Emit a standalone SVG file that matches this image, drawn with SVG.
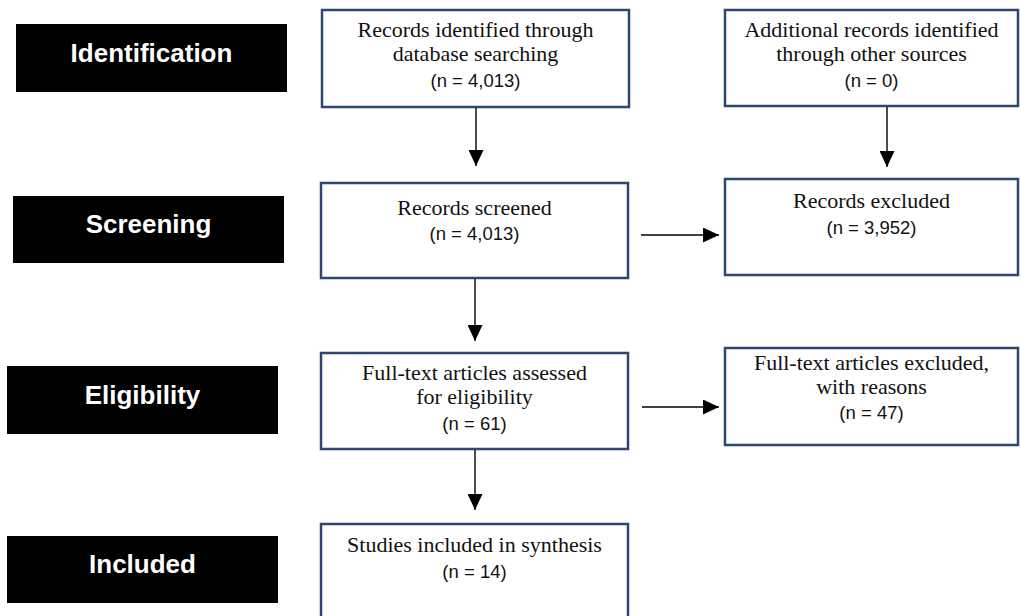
<svg xmlns="http://www.w3.org/2000/svg" width="1021" height="616" viewBox="0 0 1021 616">
  <style>
    .stage { fill: #000000; }
    .stageText { fill: #ffffff; font-family: "Liberation Sans", Arial, sans-serif; font-weight: bold; font-size: 26px; text-anchor: middle; }
    .box { fill: #ffffff; stroke: #2C4770; stroke-width: 2.5; }
    .lbl { fill: #111111; font-family: "Liberation Serif", "Times New Roman", serif; font-size: 22px; text-anchor: middle; }
    .num { fill: #111111; font-family: "Liberation Sans", Arial, sans-serif; font-size: 18.5px; text-anchor: middle; }
    .conn { stroke: #000000; stroke-width: 1.4; fill: none; marker-end: url(#arrow); }
  </style>
  <defs>
    <marker id="arrow" markerUnits="userSpaceOnUse" markerWidth="16" markerHeight="15" refX="16" refY="7.5" orient="auto">
      <path d="M0,0 L16,7.5 L0,15 Z" fill="#000000"/>
    </marker>
  </defs>
  <rect width="1021" height="616" fill="#ffffff"/>

  <g id="stage-identification">
    <rect class="stage" x="16" y="24" width="271" height="68"/>
    <text class="stageText" x="151.5" y="62">Identification</text>
  </g>
  <g id="stage-screening">
    <rect class="stage" x="13" y="196" width="271" height="67"/>
    <text class="stageText" x="148.5" y="233">Screening</text>
  </g>
  <g id="stage-eligibility">
    <rect class="stage" x="7" y="366" width="271" height="68"/>
    <text class="stageText" x="142.5" y="403.5">Eligibility</text>
  </g>
  <g id="stage-included">
    <rect class="stage" x="7" y="536" width="271" height="67"/>
    <text class="stageText" x="142.5" y="573">Included</text>
  </g>

  <g id="node-identified">
    <rect class="box" x="322" y="10" width="307" height="97"/>
    <text class="lbl" x="475.5" y="37">Records identified through</text>
    <text class="lbl" x="475.5" y="61">database searching</text>
    <text class="num" x="475.5" y="87">(n = 4,013)</text>
  </g>
  <g id="node-additional">
    <rect class="box" x="725" y="10" width="293" height="96"/>
    <text class="lbl" x="871.5" y="37">Additional records identified</text>
    <text class="lbl" x="871.5" y="61">through other sources</text>
    <text class="num" x="871.5" y="87">(n = 0)</text>
  </g>
  <g id="node-screened">
    <rect class="box" x="321" y="183" width="307" height="95"/>
    <text class="lbl" x="474.5" y="215">Records screened</text>
    <text class="num" x="474.5" y="240">(n = 4,013)</text>
  </g>
  <g id="node-excluded">
    <rect class="box" x="725" y="179" width="293" height="96"/>
    <text class="lbl" x="871.5" y="208">Records excluded</text>
    <text class="num" x="871.5" y="234">(n = 3,952)</text>
  </g>
  <g id="node-fulltext">
    <rect class="box" x="321" y="353" width="307" height="96"/>
    <text class="lbl" x="474.5" y="380">Full-text articles assessed</text>
    <text class="lbl" x="474.5" y="404">for eligibility</text>
    <text class="num" x="474.5" y="430">(n = 61)</text>
  </g>
  <g id="node-fulltext-excluded">
    <rect class="box" x="725" y="348" width="293" height="97"/>
    <text class="lbl" x="871.5" y="370">Full-text articles excluded,</text>
    <text class="lbl" x="871.5" y="394">with reasons</text>
    <text class="num" x="871.5" y="419">(n = 47)</text>
  </g>
  <g id="node-included">
    <rect class="box" x="321" y="524" width="307" height="100"/>
    <text class="lbl" x="474.5" y="552">Studies included in synthesis</text>
    <text class="num" x="474.5" y="578">(n = 14)</text>
  </g>

  <g id="connectors">
    <line class="conn" x1="476" y1="108" x2="476" y2="166"/>
    <line class="conn" x1="887" y1="107" x2="887" y2="167"/>
    <line class="conn" x1="475" y1="279" x2="475" y2="341"/>
    <line class="conn" x1="475" y1="450" x2="475" y2="510"/>
    <line class="conn" x1="641" y1="235" x2="719" y2="235"/>
    <line class="conn" x1="642" y1="407" x2="719" y2="407"/>
  </g>
</svg>
